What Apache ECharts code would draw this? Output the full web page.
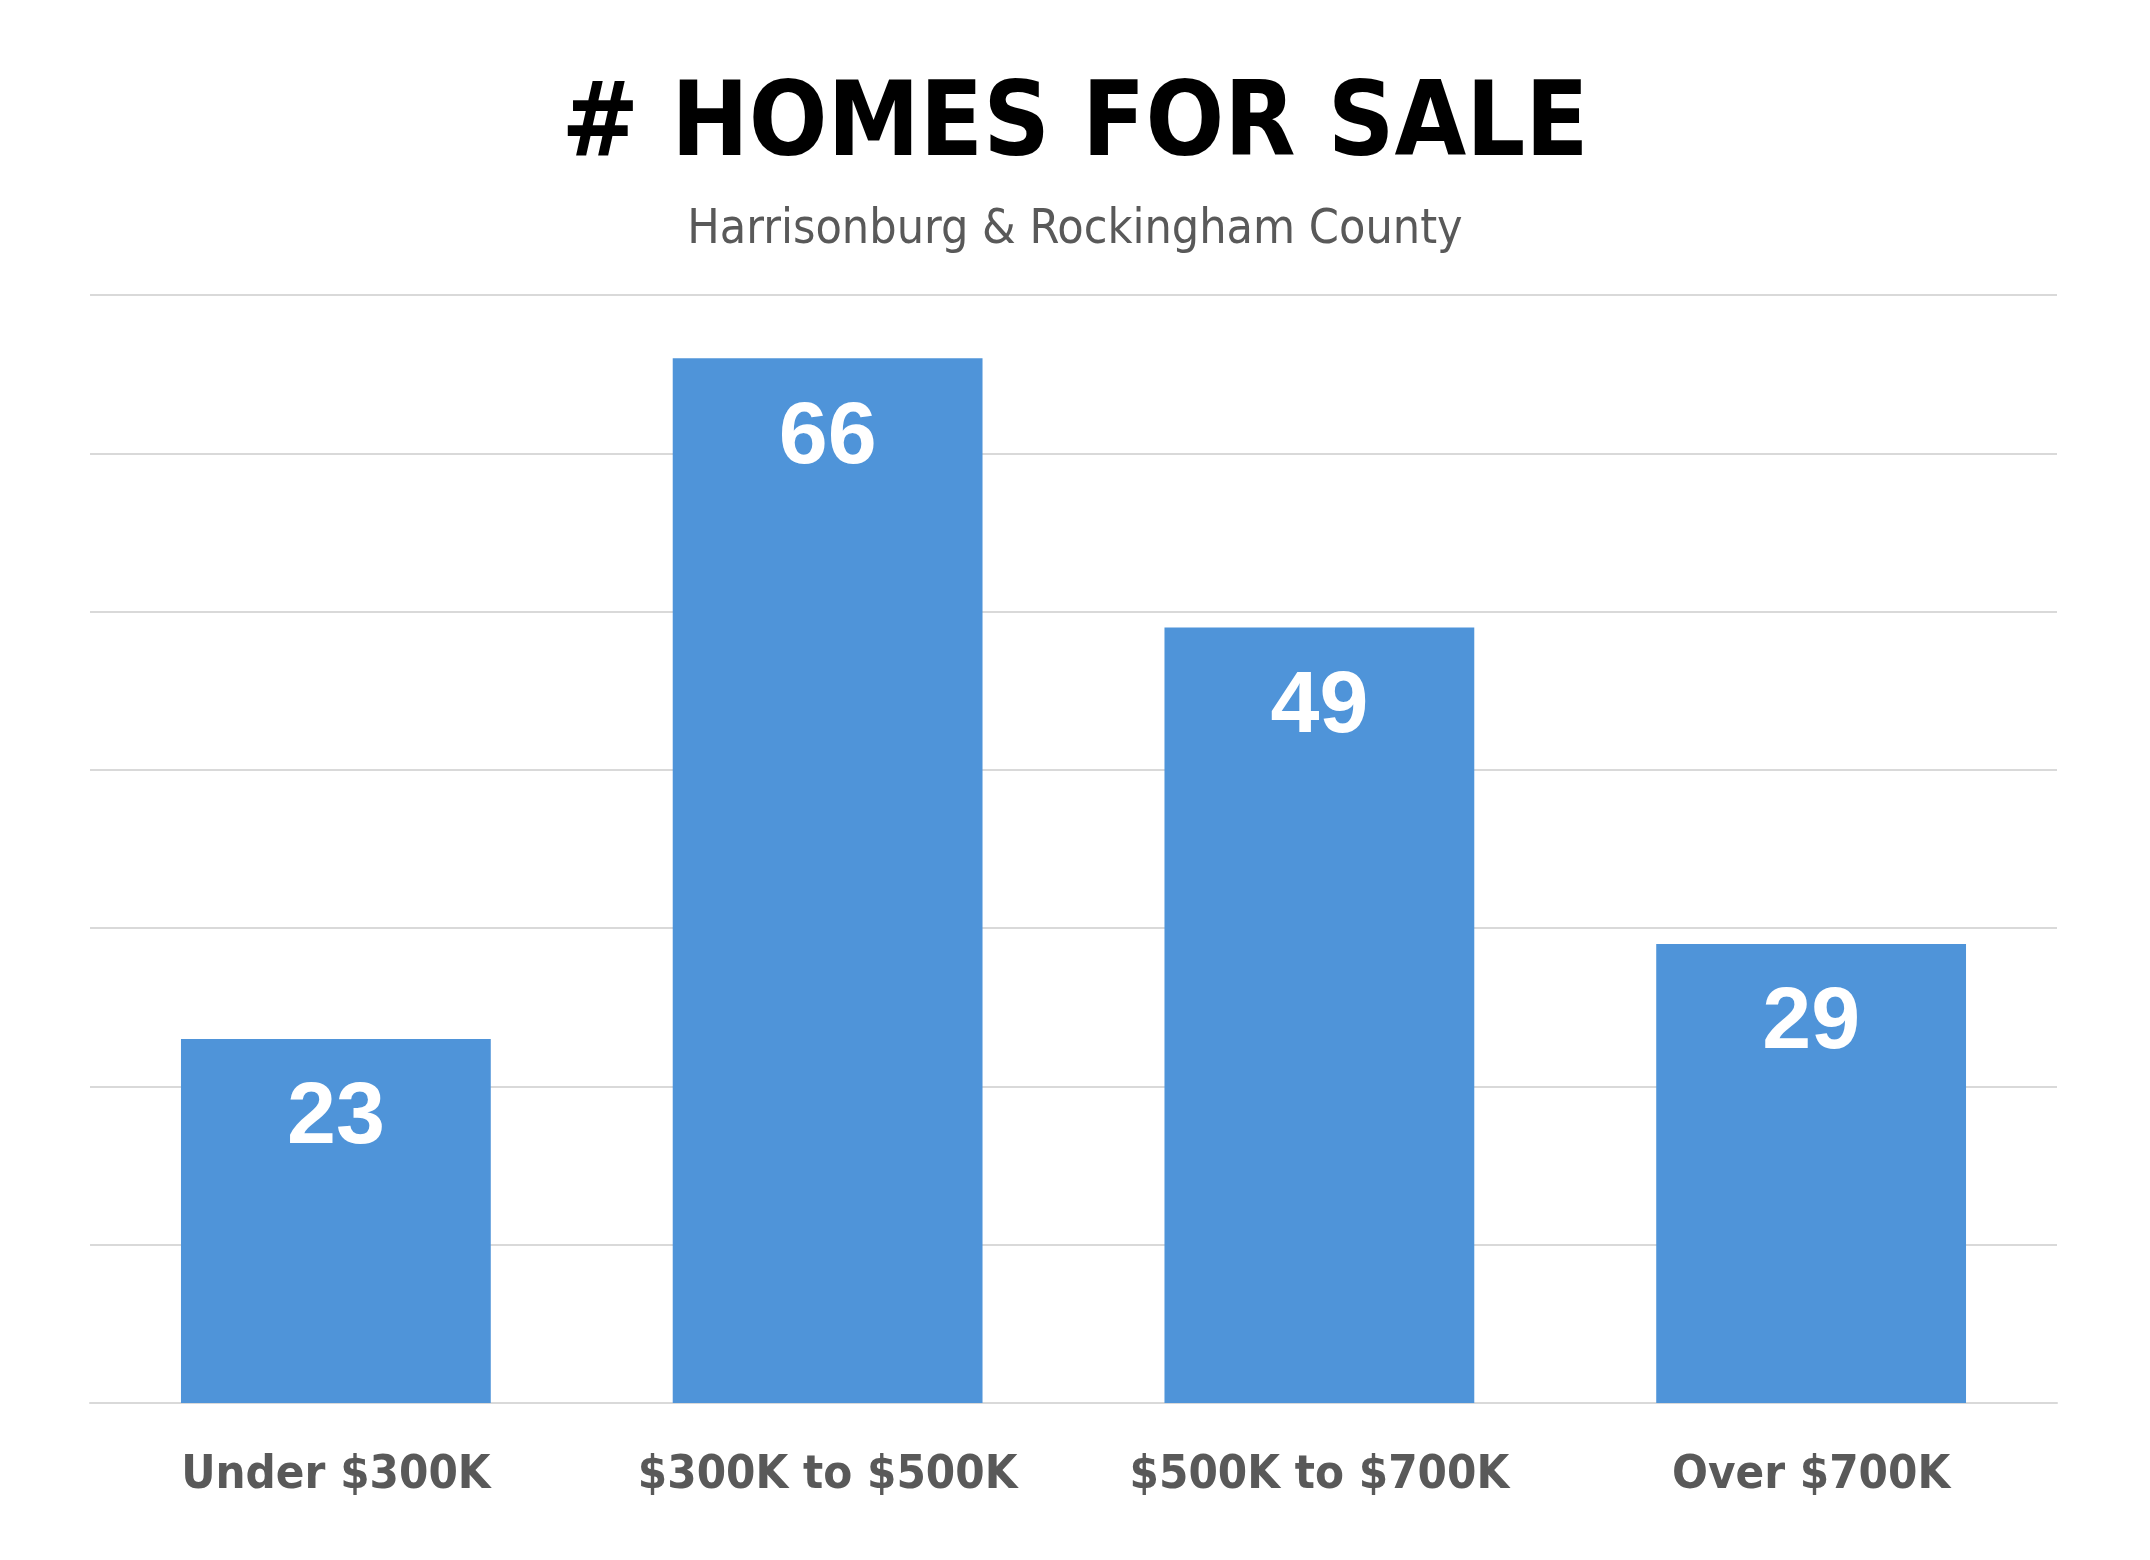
<!DOCTYPE html>
<html>
<head>
    <meta charset="utf-8">
    <title># Homes for Sale</title>
    <script src="https://cdn.jsdelivr.net/npm/echarts@6/dist/echarts.min.js"></script>
    <style>
        html, body { margin: 0; padding: 0; background: #fff; }
    </style>
</head>
<body>
    <div id="main" style="width: 2150px;height:1560px;"></div>
<script type="text/javascript">
    // chart data
    var categories = ['Under $300K', '$300K to $500K', '$500K to $700K', 'Over $700K'];
    var homesForSale = [23, 66, 49, 29];

    var narrowFont = '"DejaVu Sans Condensed", Roboto, sans-serif';

    var myChart = echarts.init(document.getElementById('main'));

    var option = {
        backgroundColor: '#ffffff',
        animation: false,
        title: [
            {
                text: '# HOMES FOR SALE',
                left: 'center',
                top: 72,
                textStyle: {
                    fontFamily: narrowFont,
                    fontWeight: 'bold',
                    fontSize: 103,
                    color: '#000000'
                }
            },
            {
                text: 'Harrisonburg & Rockingham County',
                left: 'center',
                top: 202,
                textStyle: {
                    fontFamily: narrowFont,
                    fontWeight: 'normal',
                    fontSize: 48,
                    color: '#595959'
                }
            }
        ],
        grid: {
            left: 90,
            right: 93,
            top: 295,
            bottom: 157,
            containLabel: false
        },
        xAxis: {
            type: 'category',
            data: categories,
            axisLine: { show: true, lineStyle: { color: '#D9D9D9', width: 2 } },
            axisTick: { show: false },
            axisLabel: {
                interval: 0,
                margin: 49,
                fontFamily: narrowFont,
                fontWeight: 'bold',
                fontSize: 47,
                color: '#595959'
            }
        },
        yAxis: {
            type: 'value',
            min: 0,
            max: 70,
            interval: 10,
            axisLabel: { show: false },
            axisLine: { show: false },
            axisTick: { show: false },
            splitLine: { lineStyle: { color: '#D9D9D9', width: 2 } }
        },
        series: [
            {
                name: 'Homes for sale',
                type: 'bar',
                data: homesForSale,
                barWidth: '63%',
                itemStyle: { color: '#4F94D9' },
                label: {
                    show: true,
                    position: 'insideTop',
                    distance: 36,
                    fontFamily: 'Liberation Sans',
                    fontWeight: 'bold',
                    fontSize: 88,
                    color: '#ffffff'
                }
            }
        ]
    };

    if (option && typeof option === "object") {
        myChart.setOption(option, true);
    }
</script>
</body>
</html>
